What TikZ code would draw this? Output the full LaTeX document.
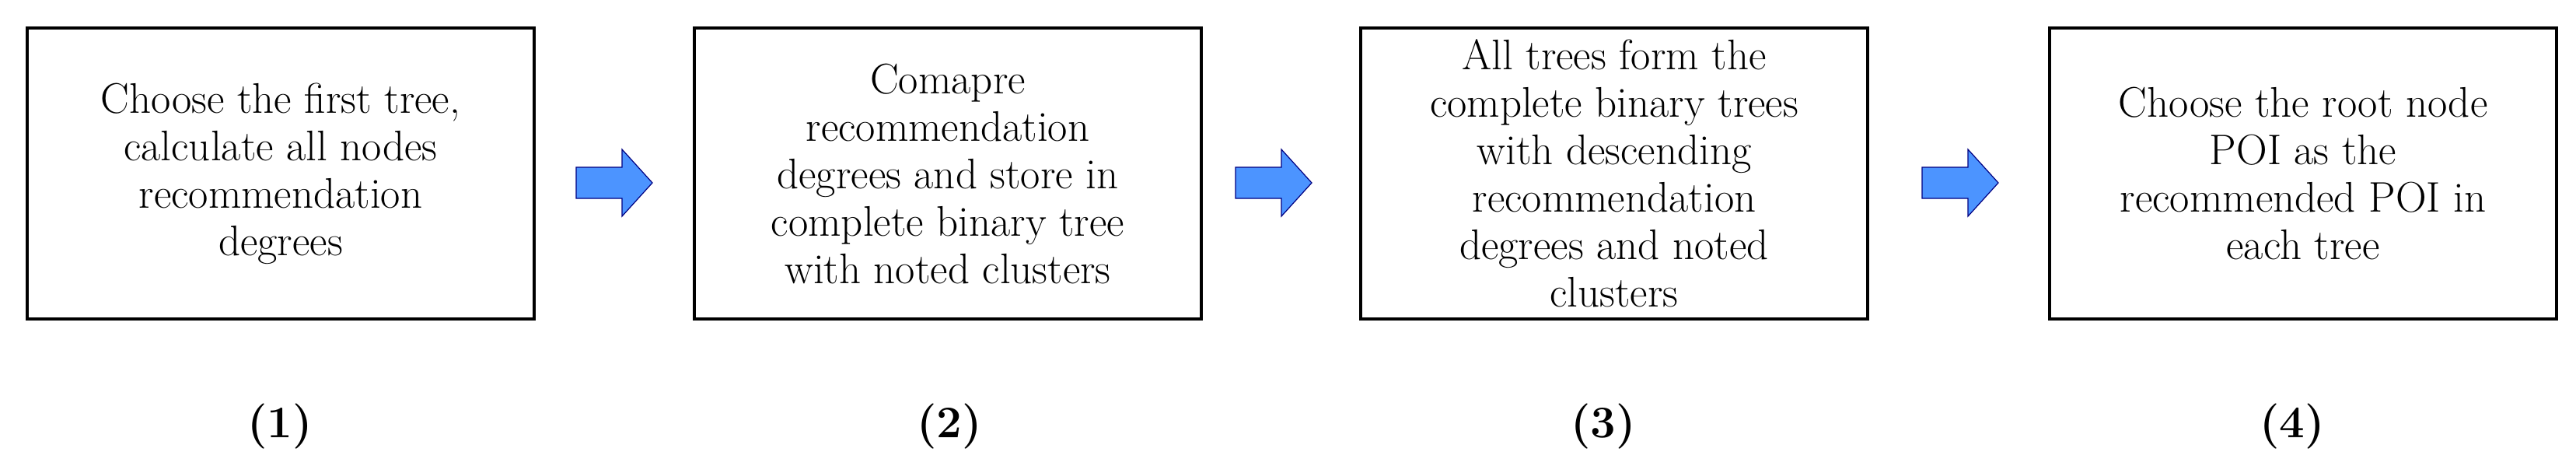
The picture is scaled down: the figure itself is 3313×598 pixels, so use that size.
\documentclass[tikz,border=0pt]{standalone}
\usepackage{fontspec}
\begin{document}
\begin{tikzpicture}[x=1pt,y=-1pt,
  box/.style={draw,line width=4.5pt,minimum width=652pt,minimum height=374pt,align=center,inner sep=0pt,font=\fontsize{55}{61}\selectfont},
  arr/.style={draw=blue!50!black,fill=blue!60!cyan!70!white,line width=1.2pt,line join=miter},
  lab/.style={font=\fontsize{58}{60}\selectfont\bfseries}]
\useasboundingbox (0,0) rectangle (3313,598);
\node[box] (b1) at (361,223) {Choose the first tree,\\calculate all nodes\\recommendation\\degrees};
\node[box] (b2) at (1219,223) {Comapre\\recommendation\\degrees and store in\\complete binary tree\\with noted clusters};
\node[box] (b3) at (2076,223) {All trees form the\\complete binary trees\\with descending\\recommendation\\degrees and noted\\clusters};
\node[box] (b4) at (2962,223) {Choose the root node\\POI as the\\recommended POI in\\each tree};
\foreach \n/\x in {a1/741,a2/1589,a3/2472}{
  \coordinate (\n) at (\x,235);
  \draw[arr] (\n) ++(0,-20) -- ++(59,0) -- ++(0,-23) -- ++(39,43) -- ++(-39,43) -- ++(0,-23) -- ++(-59,0) -- cycle;
}
\node[lab] (l1) at (360,548) {(1)};
\node[lab] (l2) at (1221,548) {(2)};
\node[lab] (l3) at (2062,548) {(3)};
\node[lab] (l4) at (2948,548) {(4)};
\end{tikzpicture}
\end{document}
